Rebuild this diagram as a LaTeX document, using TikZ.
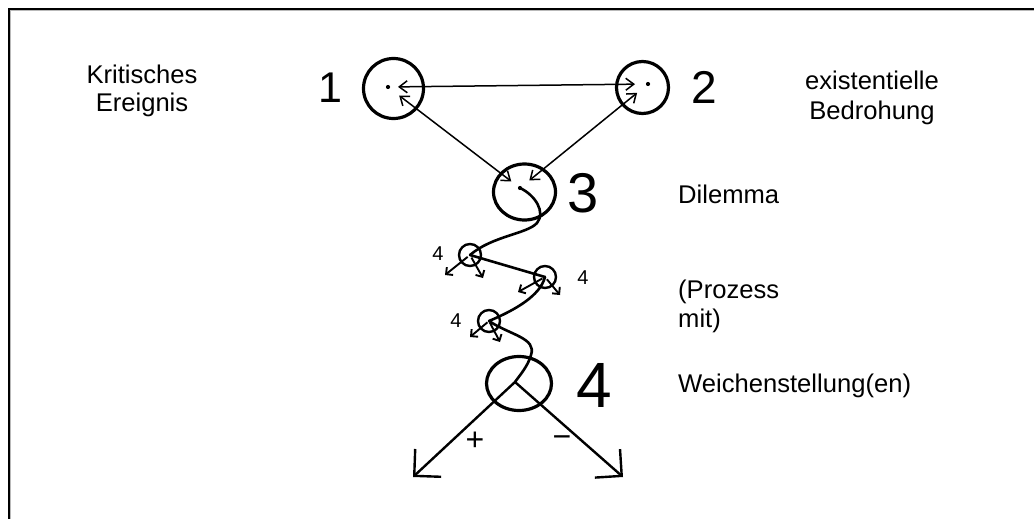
\documentclass[tikz,border=0pt]{standalone}
\usepackage{fontspec}
\setmainfont{Liberation Sans}
\usetikzlibrary{arrows.meta,shapes.geometric}
\begin{document}
\begin{tikzpicture}[x=1pt,y=-1pt,
  ring/.style={ellipse,draw,line width=3.2pt,inner sep=0pt},
  smallring/.style={circle,draw,line width=2.4pt,inner sep=0pt,minimum size=22pt},
  dot/.style={circle,fill,inner sep=0pt,minimum size=4.2pt},
  link/.style={line width=1.5pt,{Straight Barb[length=8pt,width=12pt]}-{Straight Barb[length=8pt,width=12pt]}},
  wave/.style={line width=2.6pt,line cap=round},
  twig/.style={line width=1.9pt,-{Straight Barb[length=5pt,width=10pt]}},
  branch/.style={line width=2.4pt,-{Straight Barb[length=19pt,width=38pt]}},
  lbl/.style={inner sep=0pt,font=\fontsize{25.6}{28}\selectfont},
  numlbl/.style={inner sep=0pt},
  tinynum/.style={inner sep=0pt,font=\fontsize{20}{20}\selectfont},
]
\useasboundingbox (0,0) rectangle (1034,519);

% frame
\draw[gray!55,line width=1pt] (10.8,519) -- (10.8,10.8) -- (1034,10.8);
\draw[line width=2.2pt] (9,519) -- (9,9) -- (1034,9);

% main circles
\node[ring,minimum width=60pt,minimum height=60pt] (c1) at (393.5,88.5) {};
\node[ring,minimum width=52pt,minimum height=52pt] (c2) at (642.5,87.5) {};
\node[ring,minimum width=62pt,minimum height=56pt] (c3) at (524.5,192) {};
\node[ring,minimum width=65pt,minimum height=54pt] (c4) at (519,383.5) {};

% centre dots
\node[dot] (d1) at (388,87) {};
\node[dot] (d2) at (648,84) {};
\node[dot] (d3) at (520,188) {};

% small process circles
\node[smallring] (a) at (470,255) {};
\node[smallring] (b) at (545,277) {};
\node[smallring] (c) at (489,321) {};

% digits
\node[numlbl,font=\fontsize{43}{43}\selectfont] (n1) at (330,88) {1};
\node[numlbl,font=\fontsize{46}{46}\selectfont] (n2) at (704,87) {2};
\node[numlbl,font=\fontsize{56}{56}\selectfont] (n3) at (583,193) {3};
\node[numlbl,font=\fontsize{64}{64}\selectfont] (n4) at (594,385) {4};
\node[tinynum] (na) at (438,254) {4};
\node[tinynum] (nb) at (583,278) {4};
\node[tinynum] (nc) at (456,321) {4};

% triangle of mutual influence
\draw[link,shorten <=10pt,shorten >=13pt] (d1.center) -- (d2.center);
\draw[link,shorten <=14pt,shorten >=11pt] (d1.center) -- (d3.center);
\draw[link,shorten <=14pt,shorten >=12pt] (d2.center) -- (d3.center);

% winding path through the process
\coordinate (hub) at (515,382);
\draw[wave] (d3.center) .. controls (535,195) and (546,212) .. (537,223)
  .. controls (527,234) and (492,236) .. (a.center);
\draw[wave] (a.center) -- (b.center);
\draw[wave] (b.center) .. controls (540,296) and (515,310) .. (c.center);
\draw[wave] (c.center) .. controls (510,335) and (537,338) .. (531,355)
  .. controls (528,366) and (520,375) .. (hub);

% side branches of the small circles
\coordinate (a1) at (445,275);
\coordinate (a2) at (483,278);
\coordinate (b1) at (518,292);
\coordinate (b2) at (560,295);
\coordinate (c1e) at (470,337);
\coordinate (c2e) at (500,342);
\draw[twig,shorten <=3pt] (a.center) -- (a1);
\draw[twig,shorten <=3pt] (a.center) -- (a2);
\draw[twig,shorten <=3pt] (b.center) -- (b1);
\draw[twig,shorten <=3pt] (b.center) -- (b2);
\draw[twig,shorten <=2pt] (c.center) -- (c1e);
\draw[twig,shorten <=2pt] (c.center) -- (c2e);

% the final switch
\coordinate (plusend) at (413,477);
\coordinate (minusend) at (623,477);
\draw[branch] (hub) -- (plusend);
\draw[branch] (hub) -- (minusend);
\node[inner sep=0pt,font=\fontsize{32}{32}\selectfont] (plus) at (475,441) {+};
\node[inner sep=0pt,font=\fontsize{32}{32}\selectfont] (minus) at (562,442) {−};

% captions
\node[lbl,align=center] (t1) at (142,90.5) {Kritisches\\Ereignis};
\node[lbl,align=center,font=\fontsize{25.6}{30}\selectfont] (t2) at (872,98) {existentielle\\Bedrohung};
\node[lbl,anchor=base west] (t3) at (678,203) {Dilemma};
\node[lbl,align=left,anchor=west,font=\fontsize{25.6}{29}\selectfont] (t4) at (678,306) {(Prozess\\mit)};
\node[lbl,anchor=base west] (t5) at (678,392) {Weichenstellung(en)};
\end{tikzpicture}
\end{document}
